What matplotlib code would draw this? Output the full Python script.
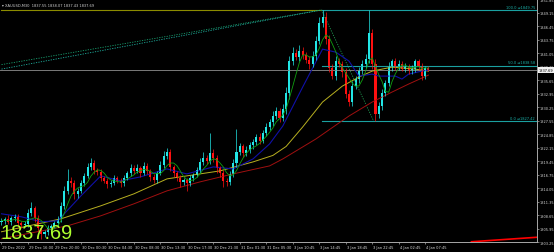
import pandas as pd
import matplotlib
matplotlib.use("Agg")
import matplotlib.pyplot as plt
import matplotlib.transforms as mtransforms

# XAUUSD M30 candles, closes
closes = [
    1807.5, 1807.8, 1807.2, 1808.0, 1808.3, 1807.0, 1806.6, 1806.8, 1809.0, 1810.0,
    1808.0, 1806.0, 1804.8, 1805.2, 1806.0, 1806.5, 1807.0, 1807.8, 1810.5, 1813.5,
    1815.5, 1815.0, 1812.8, 1813.5, 1815.0, 1816.5, 1818.2, 1819.0, 1817.6, 1817.2,
    1816.0, 1815.5, 1814.8, 1815.0, 1816.0, 1815.5, 1815.0, 1816.0, 1817.0, 1818.0,
    1817.5, 1818.0, 1817.0, 1818.5, 1817.4, 1816.2, 1815.6, 1817.0, 1818.6, 1820.4,
    1821.2, 1818.2, 1817.0, 1816.0, 1815.2, 1815.6, 1815.0, 1816.0, 1816.6, 1817.6,
    1819.2, 1820.0, 1819.5, 1821.0, 1820.0, 1818.0, 1817.0, 1815.5, 1815.2, 1816.8,
    1819.0, 1821.2, 1822.4, 1821.0, 1821.6, 1822.6, 1823.2, 1824.2, 1823.5, 1825.0,
    1826.2, 1827.2, 1828.6, 1829.6, 1828.2, 1830.0, 1833.2, 1839.6, 1841.2, 1840.4,
    1841.6, 1840.8, 1839.8, 1839.0, 1840.6, 1843.6, 1847.2, 1848.4, 1844.0, 1838.2,
    1836.6, 1839.6, 1839.0, 1837.4, 1833.0, 1831.4, 1834.6, 1836.0, 1837.6, 1839.0,
    1840.0, 1845.2, 1839.0, 1829.0, 1830.6, 1833.2, 1835.2, 1838.4, 1839.6, 1838.4,
    1839.0, 1838.0, 1838.5, 1837.5, 1838.0, 1839.5, 1838.5, 1836.6, 1838.2, 1837.69,
]
first_open = 1807.2

# wick length above / below the body
wick_up = [
    0.6, 0.5, 0.8, 0.4, 0.6, 0.5, 0.4, 0.6, 0.9, 1.3,
    0.5, 0.6, 0.4, 0.5, 0.6, 0.4, 0.5, 0.6, 0.8, 1.0,
    2.4, 0.8, 0.6, 0.5, 0.7, 0.6, 0.8, 1.0, 0.6, 0.5,
    0.6, 0.4, 0.5, 0.6, 0.7, 0.4, 0.5, 0.6, 0.5, 0.8,
    0.6, 0.9, 0.5, 0.7, 0.5, 0.4, 0.6, 0.5, 0.8, 1.0,
    0.8, 0.7, 0.5, 0.4, 0.6, 0.5, 0.4, 0.6, 0.5, 0.7,
    0.8, 1.2, 0.6, 4.0, 0.8, 0.6, 0.5, 0.6, 0.5, 0.7,
    0.9, 4.7, 0.6, 0.5, 0.8, 0.6, 0.7, 0.6, 0.8, 0.7,
    0.8, 0.7, 0.9, 0.8, 0.6, 0.9, 1.2, 1.0, 1.1, 0.8,
    1.2, 0.7, 0.6, 0.8, 0.9, 1.0, 1.2, 1.35, 0.9, 0.8,
    0.7, 0.9, 0.6, 0.5, 0.8, 0.7, 0.9, 0.6, 0.8, 0.7,
    0.9, 4.6, 0.8, 0.9, 0.7, 0.8, 0.6, 0.9, 0.4, 0.6,
    0.7, 0.5, 0.6, 0.4, 0.7, 0.5, 0.5, 0.6, 0.4, 0.38,
]
wick_down = [
    0.5, 0.6, 0.4, 0.6, 0.5, 0.7, 0.5, 0.4, 0.6, 0.5,
    0.7, 0.6, 1.0, 0.6, 0.5, 0.6, 0.4, 0.5, 0.6, 0.7,
    0.6, 0.8, 1.0, 0.7, 0.5, 0.6, 0.4, 0.6, 0.7, 0.5,
    0.6, 0.5, 0.8, 0.6, 0.4, 0.5, 0.7, 0.6, 0.4, 0.5,
    0.6, 0.5, 0.7, 0.4, 0.6, 0.7, 0.5, 0.6, 0.4, 0.5,
    0.6, 0.7, 0.8, 0.6, 0.9, 0.5, 1.6, 0.6, 0.5, 0.4,
    0.6, 0.5, 0.7, 0.6, 0.8, 0.9, 0.7, 1.3, 0.8, 0.6,
    0.5, 0.7, 0.6, 0.8, 0.5, 0.6, 0.7, 0.5, 0.6, 0.5,
    0.6, 0.5, 0.7, 0.6, 0.9, 0.8, 1.0, 1.2, 0.9, 0.7,
    0.8, 0.9, 0.7, 1.0, 0.6, 0.8, 0.7, 0.9, 1.1, 0.9,
    0.6, 0.8, 0.7, 1.0, 0.9, 0.9, 0.8, 0.7, 0.9, 0.6,
    0.8, 0.9, 1.1, 1.6, 0.9, 0.8, 0.7, 0.6, 0.8, 0.7,
    0.6, 0.5, 0.7, 0.6, 0.5, 0.6, 0.7, 0.8, 0.6, 0.26,
]

# moving averages read at a few bars
blue_bar = [0, 6, 12, 17, 24, 30, 36, 42, 50, 56, 64, 70, 76, 81, 85, 91, 97, 101, 105, 108, 112, 114, 119, 121, 123, 127, 129]
blue_val = [1808.9, 1808.3, 1807.3, 1807.5, 1812.5, 1816.5, 1815.5, 1816.3, 1817.9, 1816.9, 1818.3, 1817.9, 1819.9,
            1822.9, 1826.5, 1834.3, 1841.9, 1841.3, 1839.5, 1836.5, 1836.9, 1836.5, 1836.5, 1835.9, 1836.9, 1837.5, 1837.7]
yellow_bar = [0, 18, 30, 40, 50, 56, 66, 76, 82, 86, 91, 97, 103, 108, 112, 118, 125, 129]
yellow_val = [1805.3, 1807.9, 1810.5, 1812.9, 1815.9, 1816.5, 1817.5, 1819.3, 1820.6, 1822.4, 1826.3, 1831.3, 1834.5,
              1836.3, 1837.5, 1838.3, 1837.9, 1837.5]
red_bar = [0, 20, 30, 40, 50, 60, 70, 81, 85, 95, 105, 112, 118, 123, 129]
red_val = [1803.9, 1806.5, 1808.5, 1810.9, 1813.5, 1815.3, 1816.9, 1818.5, 1819.9, 1823.9, 1828.5, 1831.3,
           1833.3, 1834.9, 1836.7]

fib_levels = ["100.0", "50.0", "0.0"]
fib_prices = [1849.75, 1838.58, 1827.42]
fib_start, fib_end = 96.7, 112.5

price_ticks = [1851.85, 1849.15, 1846.45, 1843.75, 1841.05, 1838.35, 1835.65, 1832.95, 1830.25, 1827.55,
               1824.85, 1822.15, 1819.45, 1816.75, 1814.05, 1811.35, 1808.65, 1805.95, 1803.25]
time_labels = ["29 Dec 2022", "29 Dec 16:00", "29 Dec 20:00", "30 Dec 00:30", "30 Dec 04:30", "30 Dec 08:30",
               "30 Dec 13:30", "30 Dec 17:30", "30 Dec 21:30", "31 Dec 01:30", "31 Dec 05:30", "3 Jan 10:45",
               "3 Jan 14:45", "3 Jan 18:45", "3 Jan 22:45", "4 Jan 02:45", "4 Jan 07:45"]
last_price = 1837.69
header = "XAUUSD,M30  1837.55 1838.07 1837.43 1837.69"

df = pd.DataFrame({"close": closes, "up": wick_up, "down": wick_down})
df["open"] = df["close"].shift(1).fillna(first_open)
df["top"] = df[["open", "close"]].max(axis=1)
df["bot"] = df[["open", "close"]].min(axis=1)
df["high"] = df["top"] + df["up"]
df["low"] = df["bot"] - df["down"]
df["ma_fast"] = df["close"].rolling(5, min_periods=1).mean()
bars = df.index.values

UP = "#22E6E6"
DOWN = "#FF1010"
AXC = "#A8A8A8"

fig = plt.figure(figsize=(5.54, 2.53), dpi=100, facecolor="black")
ax = fig.add_axes([0, 10 / 253, 537 / 554, 243 / 253], facecolor="black")
ax.set_xlim(-0.45, 161.8)
ax.set_ylim(1803.35, 1851.95)

# objects behind the candles
ax.axhline(last_price, color="#7A7A7A", lw=0.7)
ax.plot([0, fib_start], [fib_prices[0], fib_prices[0]], color="#8C8C00", lw=0.8)
ax.plot([0, fib_start], [1838.8, fib_prices[0]], color="#18A070", lw=0.6, ls=(0, (1.5, 1.5)))
ax.plot([0, fib_start], [1837.9, fib_prices[0]], color="#20B0A0", lw=0.6, ls=(0, (1.5, 1.5)))
ax.plot([fib_start, fib_end], [fib_prices[0], fib_prices[2]], color="#1E9A50", lw=0.6, ls=(0, (1.5, 1.5)))
for lvl, p in zip(fib_levels, fib_prices):
    ax.plot([fib_start, 161.8], [p, p], color="#1AA0A0", lw=0.8)
    ax.text(161.2, p + 0.25, f"{lvl} \u21d2{p:.2f}", color="#1AB0A8", fontsize=2.6,
            ha="right", va="bottom")

# trend line bottom right
ax.plot([142, 161.8], [1803.3, 1804.2], color="#FF0000", lw=1.2)

# moving averages
ax.plot(red_bar, red_val, color="#A01010", lw=0.7)
ax.plot(yellow_bar, yellow_val, color="#B8B020", lw=0.7)
ax.plot(blue_bar, blue_val, color="#1010A8", lw=0.8)

# candles
colors = [UP if c >= o else DOWN for o, c in zip(df["open"], df["close"])]
ax.vlines(bars, df["low"], df["high"], colors=colors, lw=0.5)
heights = (df["top"] - df["bot"]).clip(lower=0.15)
ax.bar(bars, heights, bottom=df["bot"], width=0.62, color=colors, linewidth=0)

ax.plot(bars, df["ma_fast"], color="#10A010", lw=0.6)

# axes like the terminal
for s in ["top", "left"]:
    ax.spines[s].set_visible(False)
ax.spines["right"].set_color(AXC)
ax.spines["bottom"].set_color(AXC)
ax.spines["right"].set_linewidth(0.7)
ax.spines["bottom"].set_linewidth(0.7)
ax.yaxis.tick_right()
ax.set_yticks(price_ticks)
ax.set_yticklabels([f"{p:.2f}" for p in price_ticks])
ax.tick_params(axis="y", colors=AXC, labelsize=2.5, length=1.2, width=0.5, pad=0.6, labelcolor="#D8D8D8")
ax.set_xticks(range(0, 8 * len(time_labels), 8))
ax.set_xticklabels([])
ax.tick_params(axis="x", colors=AXC, length=1.5, width=0.5)
trans = mtransforms.blended_transform_factory(ax.transData, ax.transAxes)
for k, lab in enumerate(time_labels):
    ax.text(8 * k + 0.3, -0.012, lab, transform=trans, color="#D8D8D8", fontsize=2.6,
            ha="left", va="top", clip_on=False)

ax.text(1.003, last_price, f"{last_price:.2f}", transform=mtransforms.blended_transform_factory(ax.transAxes, ax.transData),
        color="black", fontsize=2.5, ha="left", va="center", clip_on=False,
        bbox=dict(boxstyle="square,pad=0.25", fc="#F0F0F0", ec="none"))

ax.text(0.004, 0.985, "\u25be " + header, transform=ax.transAxes, color="#D0D0D0", fontsize=2.6,
        ha="left", va="top")
ax.text(0.0, 0.0, f"{last_price:.2f}", transform=ax.transAxes, color="#ADFF2F", fontsize=14.4,
        family=["Liberation Sans", "DejaVu Sans"], ha="left", va="bottom")

fig.savefig("out.png", dpi=100, facecolor="black")
